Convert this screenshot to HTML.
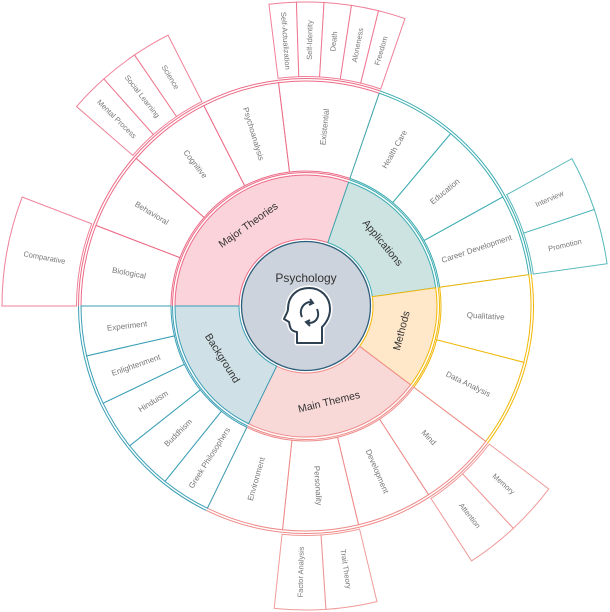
<!DOCTYPE html>
<html><head><meta charset="utf-8"><style>
html,body{margin:0;padding:0;background:#fff;}
svg{display:block;font-family:"Liberation Sans",sans-serif;}
</style></head><body>
<svg id="s" width="610" height="612" viewBox="0 0 610 612" xmlns="http://www.w3.org/2000/svg"></svg>
<script>
var NS="http://www.w3.org/2000/svg",S=document.getElementById('s');
var CX=306,CY=306;
function pt(r,a){var t=a*Math.PI/180;return [CX+r*Math.sin(t),CY-r*Math.cos(t)];}
function el(n,at,txt){var e=document.createElementNS(NS,n);for(var k in at)e.setAttribute(k,at[k]);if(txt!=null)e.textContent=txt;S.appendChild(e);return e;}
function sector(r0,r1,a0,a1){var p1=pt(r0,a0),p2=pt(r1,a0),p3=pt(r1,a1),p4=pt(r0,a1),l=(a1-a0)>180?1:0;
return "M"+p1+"L"+p2+"A"+r1+","+r1+" 0 "+l+" 1 "+p3+"L"+p4+"A"+r0+","+r0+" 0 "+l+" 0 "+p1+"Z";}
function arc(r,a0,a1){var p1=pt(r,a0),p2=pt(r,a1),l=(a1-a0)>180?1:0;return "M"+p1+"A"+r+","+r+" 0 "+l+" 1 "+p2;}
function norm(a){a=((a%360)+360)%360;if(a>180)a-=360;if(a>90)a-=180;if(a<=-90)a+=180;return a;}
function label(r,mid,txt,rot,size,col){var p=pt(r,mid);
el('text',{x:p[0],y:p[1],'font-size':size,fill:col,'text-anchor':'middle','dominant-baseline':'central',transform:'rotate('+rot+' '+p[0]+' '+p[1]+')'},txt);}
var data=[
["Major Theories",270,379,"#fbd3da","#ec6a85",[["Biological",270,291,["Comparative"]],["Behavioral",291,311,[]],["Cognitive",311,333,["Mental Process","Social Learning","Science"]],["Psychoanalysis",333,353,[]],["Existential",353,379,["Self-Actualization","Self-Identity","Death","Aloneness","Freedom"]]]],
["Applications",19,82,"#cde3e1","#3aabb0",[["Health Care",19,40,[]],["Education",40,61,[]],["Career Development",61,82,["Interview","Promotion"]]]],
["Methods",82,127,"#ffe7c9","#f2b705",[["Qualitative",82,104.5,[]],["Data Analysis",104.5,127,[]]]],
["Main Themes",127,206,"#f9d9d8","#ee8a88",[["Mind",127,147,["Memory","Attention"]],["Development",147,166.5,[]],["Personality",166.5,186,["Trait Theory","Factor Analysis"]],["Environment",186,206,[]]]],
["Background",206,270,"#cfe1e7","#3a9fb5",[["Greek Philosophers",206,218.8,[]],["Buddhism",218.8,231.6,[]],["Hinduism",231.6,244.4,[]],["Enlightenment",244.4,257.2,[]],["Experiment",257.2,270,[]]]]
];
data.forEach(function(d){
  var a0=d[1],a1=d[2];
  el('path',{d:sector(67,131,a0,a1),fill:d[3],stroke:d[4],'stroke-width':1});
  el('path',{d:arc(133.5,a0,a1),fill:'none',stroke:d[4],'stroke-width':1});
  d[5].forEach(function(c){
    el('path',{d:sector(135,225,c[1],c[2]),fill:'#fff',stroke:d[4],'stroke-width':1});
    el('path',{d:arc(227.5,c[1],c[2]),fill:'none',stroke:d[4],'stroke-width':1});
    var m=(c[1]+c[2])/2;
    label(180,m,c[0],norm(m-90),8,'#777');
    var n=c[3].length;
    if(n){var w=(c[2]-c[1])/n;
      c[3].forEach(function(l,i){var b0=c[1]+i*w,b1=b0+w;
        el('path',{d:sector(229.5,304,b0,b1),fill:'#fff',stroke:d[4],'stroke-width':1,'stroke-opacity':0.85});
        var mm=(b0+b1)/2;label(266,mm,l,norm(mm-90),7.5,'#777');});}
  });
  var m=(a0+a1)/2;
  label(99,m,d[0],norm(m),10.5,'#333');
});
el('circle',{cx:CX,cy:CY,r:64.5,fill:'#ccd3dc',stroke:'#2e5d7b','stroke-width':1.3});
el('text',{x:306,y:282,'font-size':12,fill:'#333','text-anchor':'middle'},"Psychology");
el('path',{d:"M297,343 L297,332 C289,331 290,325 289,322 L284,319 C286,314 288,312 288,309 C288,296 297,288 309,288 C321,288 330,297 330,309 C330,318 325,324 322,327 L322,343 Z",fill:'#fff',stroke:'#fff','stroke-width':5,'stroke-linejoin':'round'});
el('path',{d:"M297,343 L297,332 C289,331 290,325 289,322 L284,319 C286,314 288,312 288,309 C288,296 297,288 309,288 C321,288 330,297 330,309 C330,318 325,324 322,327 L322,343 Z",fill:'#fff',stroke:'#2e4152','stroke-width':2,'stroke-linejoin':'round'});
el('path',{d:"M302,317 C299,311 302,304 309,302 L313,303 M310,299 L313,303 L309,305",fill:'none',stroke:'#2e4152','stroke-width':2});
el('path',{d:"M317,309 C320,316 317,322 310,323 L307,322 M310,326 L306,322 L310,320",fill:'none',stroke:'#2e4152','stroke-width':2});
</script>
</body></html>
